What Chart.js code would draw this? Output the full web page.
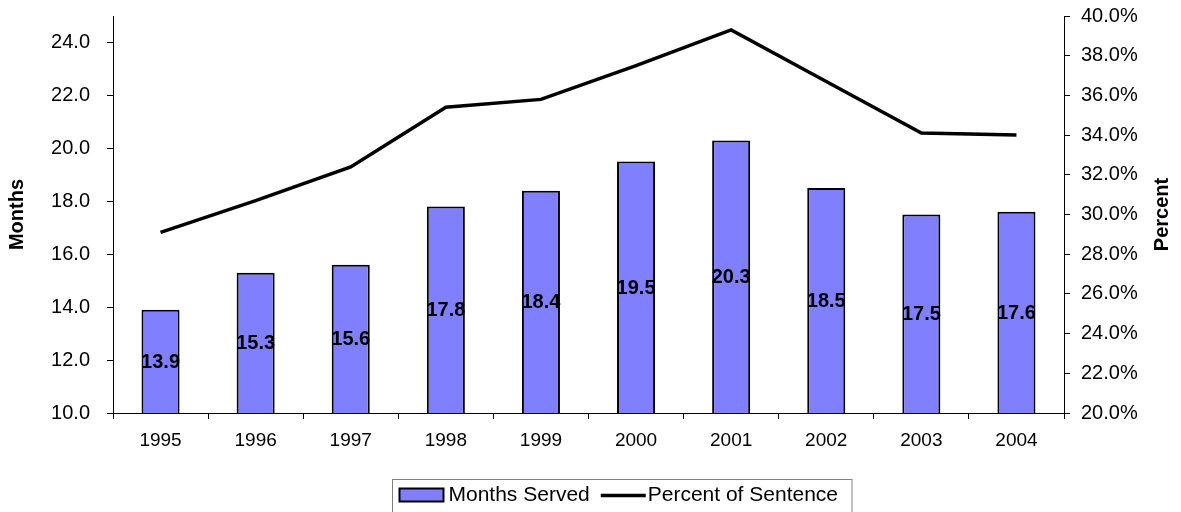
<!DOCTYPE html>
<html>
<head>
<meta charset="utf-8">
<script src="https://cdn.jsdelivr.net/npm/chart.js@4"></script>
<style>
  body { margin: 0; background: #fff; }
  canvas { display: block; }
</style>
</head>
<body>
<canvas id="chart" width="1181" height="512"></canvas>
<script>
const years = ['1995', '1996', '1997', '1998', '1999', '2000', '2001', '2002', '2003', '2004'];
const monthsServed = [13.9, 15.3, 15.6, 17.8, 18.4, 19.5, 20.3, 18.5, 17.5, 17.6];
const percentOfSentence = [29.1, 30.7, 32.4, 35.4, 35.8, 37.5, 39.3, 36.7, 34.1, 34.0];
const seriesNames = ['Months Served', 'Percent of Sentence'];
const axisTitles = ['Months', 'Percent'];

const FONT = '"Liberation Sans", Arial, sans-serif';
const BAR_COLOR = '#8080FF';

// value labels in the middle of the visible part of each bar
const barLabels = {
  id: 'barLabels',
  afterDatasetsDraw(chart) {
    const ctx = chart.ctx;
    const meta = chart.getDatasetMeta(0);
    const bottom = chart.chartArea.bottom;
    ctx.save();
    ctx.font = 'bold 20px ' + FONT;
    ctx.fillStyle = '#000';
    ctx.textAlign = 'center';
    ctx.textBaseline = 'middle';
    meta.data.forEach((bar, i) => {
      const base = Math.min(bar.base, bottom);
      ctx.fillText(monthsServed[i].toFixed(1), bar.x, (bar.y + base) / 2 + 1);
    });
    ctx.restore();
  }
};

// rotated axis titles, both reading bottom to top
const axisTitlePlugin = {
  id: 'axisTitlePlugin',
  afterDraw(chart) {
    const ctx = chart.ctx;
    const area = chart.chartArea;
    const midY = (area.top + area.bottom) / 2;
    ctx.save();
    ctx.font = 'bold 20px ' + FONT;
    ctx.fillStyle = '#000';
    ctx.textAlign = 'center';
    ctx.textBaseline = 'middle';
    [[area.left - 96, axisTitles[0]], [area.right + 98, axisTitles[1]]].forEach(([x, text]) => {
      ctx.save();
      ctx.translate(x, midY);
      ctx.rotate(-Math.PI / 2);
      ctx.fillText(text, 0, 0);
      ctx.restore();
    });
    ctx.restore();
  }
};

// boxed legend under the axis
const boxLegend = {
  id: 'boxLegend',
  afterDraw(chart) {
    const ctx = chart.ctx;
    const area = chart.chartArea;
    ctx.save();
    ctx.font = '21px ' + FONT;
    const w1 = ctx.measureText(seriesNames[0]).width;
    const w2 = ctx.measureText(seriesNames[1]).width;
    const total = 7 + 44 + 5 + w1 + 11 + 45 + 2 + w2 + 14;
    const cx = (area.left + area.right) / 2 + 33;
    const left = Math.round(cx - total / 2) + 0.5;
    const top = Math.round(area.bottom + 66) + 0.5;
    const midY = top + 16;

    ctx.strokeStyle = '#808080';
    ctx.lineWidth = 1;
    ctx.strokeRect(left, top, total, 40);

    let x = left + 7;
    ctx.fillStyle = BAR_COLOR;
    ctx.fillRect(x, midY - 7, 44, 13);
    ctx.strokeStyle = '#000';
    ctx.lineWidth = 2;
    ctx.strokeRect(x, midY - 7, 44, 13);
    x += 44 + 5;

    ctx.fillStyle = '#000';
    ctx.textBaseline = 'middle';
    ctx.textAlign = 'left';
    ctx.fillText(seriesNames[0], x, midY);
    x += w1 + 11;

    ctx.beginPath();
    ctx.lineWidth = 3.5;
    ctx.moveTo(x, midY);
    ctx.lineTo(x + 45, midY);
    ctx.stroke();
    x += 45 + 2;

    ctx.fillText(seriesNames[1], x, midY);
    ctx.restore();
  }
};

// fixed axis widths, no extra label padding on top/bottom
const fitY = width => scale => {
  scale.width = width;
  scale.paddingTop = 0;
  scale.paddingBottom = 0;
};

const data = {
  labels: years,
  datasets: [
    {
      type: 'bar',
      label: seriesNames[0],
      data: monthsServed,
      yAxisID: 'y',
      backgroundColor: BAR_COLOR,
      borderColor: '#000',
      borderWidth: 2,
      categoryPercentage: 1,
      barPercentage: 0.4,
      order: 2,
    },
    {
      type: 'line',
      label: seriesNames[1],
      data: percentOfSentence,
      yAxisID: 'y1',
      borderColor: '#000',
      borderWidth: 3.5,
      pointRadius: 0,
      tension: 0,
      fill: false,
      order: 1,
    },
  ],
};

const options = {
  responsive: false,
  animation: false,
  layout: { padding: { top: 16, left: 0, right: 0, bottom: 0 } },
  scales: {
    x: {
      offset: true,
      grid: { display: true, drawOnChartArea: false, offset: true, color: '#000', tickLength: 6 },
      border: { display: true, color: '#000', width: 1 },
      ticks: { color: '#000', font: { family: FONT, size: 19 }, padding: 10, maxRotation: 0 },
      afterFit: scale => { scale.height = 99; },
    },
    y: {
      position: 'left',
      min: 10,
      max: 25,
      grid: { display: true, drawOnChartArea: false, color: '#000', tickLength: 6 },
      border: { display: true, color: '#000', width: 1 },
      ticks: {
        stepSize: 2,
        includeBounds: false,
        color: '#000',
        padding: 17,
        font: { family: FONT, size: 20 },
        callback: value => value.toFixed(1),
      },
      afterFit: fitY(113),
    },
    y1: {
      position: 'right',
      min: 20,
      max: 40,
      grid: { display: true, drawOnChartArea: false, color: '#000', tickLength: 6 },
      border: { display: true, color: '#000', width: 1 },
      ticks: {
        stepSize: 2,
        color: '#000',
        padding: 11,
        font: { family: FONT, size: 20 },
        callback: value => value.toFixed(1) + '%',
      },
      afterFit: fitY(117),
    },
  },
  plugins: {
    legend: { display: false },
    title: { display: false },
    tooltip: { enabled: false },
  },
};

new Chart(document.getElementById('chart').getContext('2d'), {
  data: data,
  options: options,
  plugins: [barLabels, axisTitlePlugin, boxLegend],
});
</script>
</body>
</html>
